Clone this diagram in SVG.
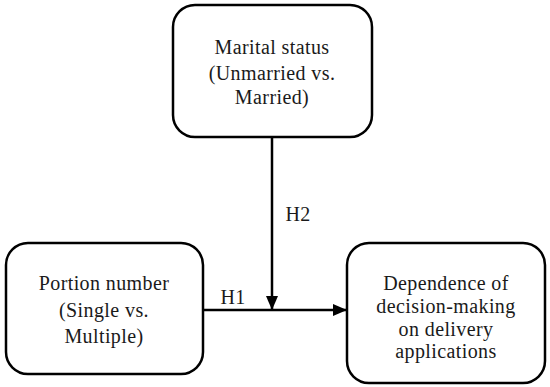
<svg xmlns="http://www.w3.org/2000/svg" width="550" height="387" viewBox="0 0 550 387">
<defs>
<style>
.box{fill:#fff;stroke:#000;stroke-width:2.5}
.t{font-family:"Liberation Serif","DejaVu Serif",serif;font-size:20px;letter-spacing:0.4px;fill:#1a1a1a;text-anchor:middle}
.c{stroke:#000;stroke-width:2.5;fill:none}
</style>
<marker id="ah" markerWidth="14" markerHeight="12" refX="14" refY="6" orient="auto" markerUnits="userSpaceOnUse" viewBox="0 0 14 12">
<path d="M0,0 L14,6 L0,12 z" fill="#000"/>
</marker>
</defs>
<rect width="550" height="387" fill="#fff"/>
<g id="connectors">
<line class="c" x1="272" y1="137" x2="272" y2="310" marker-end="url(#ah)"/>
<line class="c" x1="203" y1="310" x2="347" y2="310" marker-end="url(#ah)"/>
<text class="t" x="298" y="221">H2</text>
<text class="t" x="233" y="304">H1</text>
</g>
<g id="marital">
<rect class="box" x="173" y="5" width="199" height="132" rx="22"/>
<text class="t" x="272" y="54">Marital status</text>
<text class="t" x="272" y="80">(Unmarried vs.</text>
<text class="t" x="272" y="104">Married)</text>
</g>
<g id="portion">
<rect class="box" x="6" y="243" width="197" height="131" rx="22"/>
<text class="t" x="104" y="290">Portion number</text>
<text class="t" x="104" y="317">(Single vs.</text>
<text class="t" x="104" y="343">Multiple)</text>
</g>
<g id="dependence">
<rect class="box" x="347" y="243" width="198" height="140" rx="22"/>
<text class="t" x="446" y="290">Dependence of</text>
<text class="t" x="446" y="313">decision-making</text>
<text class="t" x="446" y="336">on delivery</text>
<text class="t" x="446" y="358">applications</text>
</g>
</svg>
